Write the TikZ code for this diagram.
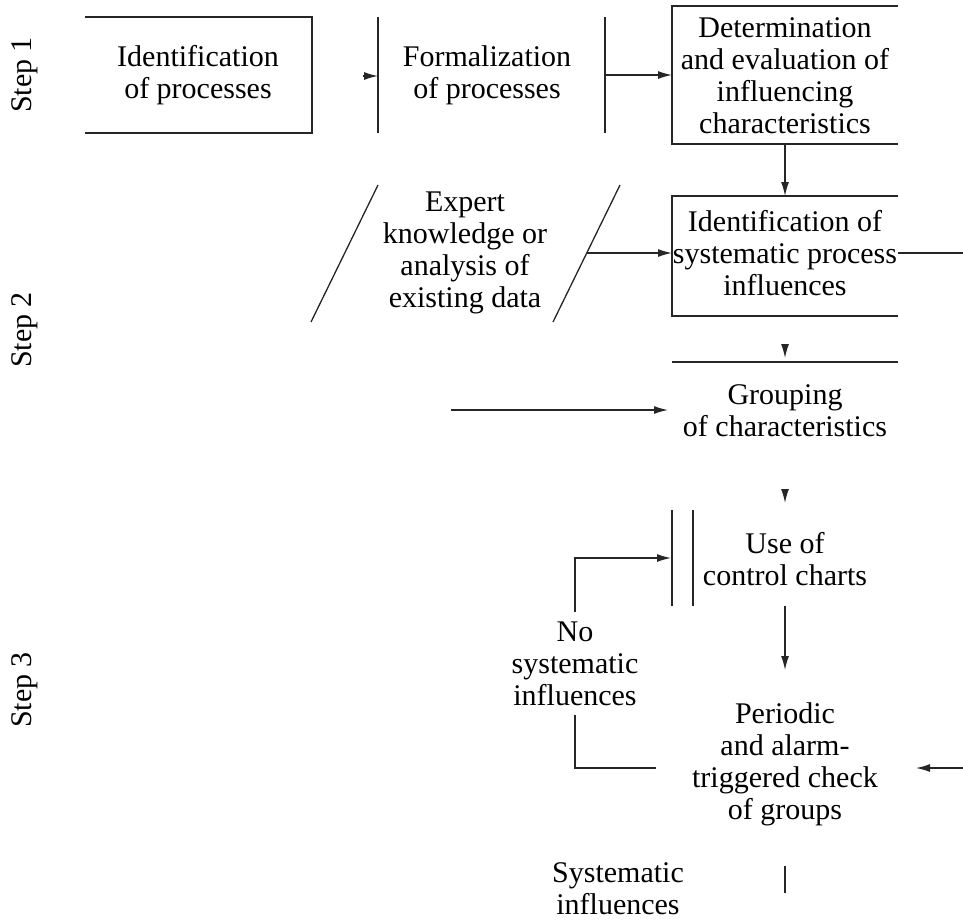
\documentclass[tikz,border=0pt]{standalone}
\usepackage{fontspec}
\setmainfont{Liberation Serif}
\usetikzlibrary{arrows.meta}
\begin{document}
\begin{tikzpicture}[x=1pt,y=-1pt,
  every node/.style={font=\fontsize{30}{32}\selectfont, align=center, inner sep=0pt},
  ln/.style={line width=1.3pt, draw=black!85},
  arr/.style={ln, -{Latex[length=14pt,width=8pt]}},
  steplbl/.style={rotate=90}]
\useasboundingbox (0,0) rectangle (963,922);
% step labels
\node[steplbl] (s1) at (25,75) {Step 1};
\node[steplbl] (s2) at (25,330) {Step 2};
\node[steplbl] (s3) at (25,690) {Step 3};
% text nodes
\node (idp) at (198,75) {Identification\\of processes};
\node (form) at (487,75) {Formalization\\of processes};
\node (det) at (785,76) {Determination\\and evaluation of\\influencing\\characteristics};
\node (exp) at (465,253) {Expert\\knowledge or\\analysis of\\existing data};
\node (sys) at (785,253) {Identification of\\systematic process\\influences};
\node (grp) at (785,411) {Grouping\\of characteristics};
\node (use) at (785,559) {Use of\\control charts};
\node (nos) at (575,664) {No\\systematic\\influences};
\node (per) at (785,764) {Periodic\\and alarm-\\triggered check\\of groups};
\node (yes) at (618,889) {Systematic\\influences};
% coordinates
\coordinate (b1tl) at (85,17); \coordinate (b1tr) at (312,17);
\coordinate (b1br) at (312,133); \coordinate (b1bl) at (85,133);
\coordinate (v1t) at (378,17); \coordinate (v1b) at (378,133);
\coordinate (v2t) at (605,17); \coordinate (v2b) at (605,133);
\coordinate (v2m) at (605,75);
\coordinate (b3tl) at (672,6); \coordinate (b3tr) at (898,6);
\coordinate (b3bl) at (672,144); \coordinate (b3br) at (898,144);
\coordinate (b3w) at (672,75);
\coordinate (b3s) at (785,144);
\coordinate (b4tl) at (672,196); \coordinate (b4tr) at (898,196);
\coordinate (b4bl) at (672,316); \coordinate (b4br) at (898,316);
\coordinate (b4w) at (672,253); \coordinate (b4e) at (898,253);
\coordinate (b4n) at (785,196);
\coordinate (rout) at (963,253);
\coordinate (p1t) at (378,185); \coordinate (p1b) at (311,322);
\coordinate (p2t) at (620,185); \coordinate (p2b) at (553,322);
\coordinate (p2m) at (587,253);
\coordinate (gl) at (672,362); \coordinate (gr) at (898,362);
\coordinate (ga) at (451,410); \coordinate (gb) at (668,410);
\coordinate (u1t) at (672,510); \coordinate (u1b) at (672,606);
\coordinate (u2t) at (693,510); \coordinate (u2b) at (693,606);
\coordinate (loopa) at (575,612); \coordinate (loopb) at (575,558);
\coordinate (loopc) at (671,558);
\coordinate (loopd) at (575,715); \coordinate (loope) at (575,768);
\coordinate (loopf) at (656,768);
\coordinate (ua) at (785,606); \coordinate (ub) at (785,670);
\coordinate (ra) at (963,768); \coordinate (rb) at (916,768);
\coordinate (sa) at (785,866); \coordinate (sb) at (785,893);
% box 1 (open left)
\draw[ln] (b1tl) -- (b1tr) -- (b1br) -- (b1bl);
% lone arrowhead into formalization
\draw[arr] (363,76) -- (v1t |- 0,76);
\draw[ln] (v1t) -- (v1b);
\draw[ln] (v2t) -- (v2b);
\draw[arr] (v2m) -- (b3w);
% box 3 (open right)
\draw[ln] (b3tr) -- (b3tl) -- (b3bl) -- (b3br);
\draw[arr] (b3s) -- (b4n);
% expert parallelogram sides
\draw[ln] (p1t) -- (p1b);
\draw[ln] (p2t) -- (p2b);
\draw[arr] (p2m) -- (b4w);
% box 4 (open right)
\draw[ln] (b4tr) -- (b4tl) -- (b4bl) -- (b4br);
\draw[ln] (b4e) -- (rout);
% grouping
\draw[arr] (785,344) -- (785,358);
\draw[ln] (gl) -- (gr);
\draw[arr] (ga) -- (gb);
\draw[arr] (785,489) -- (785,503);
% use of control charts
\draw[ln] (u1t) -- (u1b);
\draw[ln] (u2t) -- (u2b);
\draw[arr] (loopa) -- (loopb) -- (loopc);
\draw[arr] (ua) -- (ub);
\draw[ln] (loopd) -- (loope) -- (loopf);
\draw[arr] (ra) -- (rb);
\draw[ln] (sa) -- (sb);
\end{tikzpicture}
\end{document}
